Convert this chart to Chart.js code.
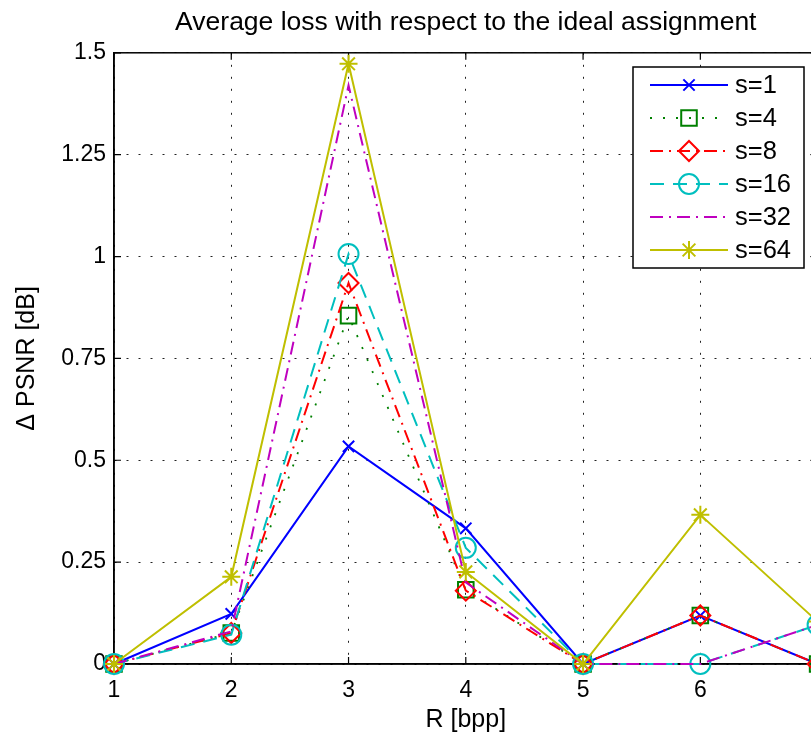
<!DOCTYPE html>
<html>
<head>
<meta charset="utf-8">
<title>Average loss with respect to the ideal assignment</title>
<script src="https://cdn.jsdelivr.net/npm/chart.js"></script>
<style>
  html, body { margin: 0; padding: 0; background: #fff; overflow: hidden; }
  #wrap { width: 837px; height: 739px; }
</style>
</head>
<body>
<div id="wrap"><canvas id="chart" width="837" height="739"></canvas></div>
<script>
// rates R [bpp]
const rates = [1, 2, 3, 4, 5, 6, 7];
const xTicks = [1, 2, 3, 4, 5, 6, 7];
const yTicks = [0, 0.25, 0.5, 0.75, 1, 1.25, 1.5];

// Delta PSNR [dB] for each s
const s1  = [0, 0.123, 0.534, 0.333, 0, 0.119, 0];
const s4  = [0, 0.076, 0.855, 0.182, 0, 0.119, 0];
const s8  = [0, 0.076, 0.935, 0.180, 0, 0.119, 0];
const s16 = [0, 0.072, 1.006, 0.285, 0, 0, 0.096];
const s32 = [0, 0.080, 1.420, 0.200, 0, 0, 0.096];
const s64 = [0, 0.214, 1.473, 0.226, 0, 0.366, 0.104];

const seriesNames = ['s=1', 's=4', 's=8', 's=16', 's=32', 's=64'];
const seriesData = [s1, s4, s8, s16, s32, s64];
const colors = ['#0000ff', '#008000', '#ff0000', '#00bfbf', '#bf00bf', '#bfbf00'];
const dashes = [[], [2, 11], [13, 6, 2, 6], [14, 9], [13, 6, 2, 6], []];
const lineWidths = [2, 1.8, 2, 2, 2, 2];
const markers = ['crossRot', 'rect', 'rectRot', 'circle', false, 'star'];
const markerSizes = [8, 11, 10, 10, 0, 9];

const FONT = '"Liberation Sans", Arial, Helvetica, sans-serif';

const datasets = seriesData.map((vals, i) => ({
    label: seriesNames[i],
    data: rates.map((x, j) => ({ x: x, y: vals[j] })),
    borderColor: colors[i],
    borderWidth: lineWidths[i],
    borderDash: dashes[i],
    pointStyle: markers[i],
    pointRadius: markerSizes[i],
    pointBorderColor: colors[i],
    pointBackgroundColor: 'rgba(0,0,0,0)',
    pointBorderWidth: 2,
    tension: 0,
    clip: false,
    order: seriesData.length - i
}));

// frame on all sides plus inward tick marks, like the matlab axes box
const frame = {
    id: 'frame',
    beforeDatasetsDraw(chart) {
        const ctx = chart.ctx;
        const a = chart.chartArea;
        const xs = chart.scales.x, ys = chart.scales.y;
        ctx.save();
        ctx.strokeStyle = '#000';
        ctx.lineWidth = 1.5;
        ctx.strokeRect(a.left, a.top, a.right - a.left, a.bottom - a.top);
        ctx.lineWidth = 1.2;
        ctx.beginPath();
        xTicks.forEach(v => {
            const px = xs.getPixelForValue(v);
            ctx.moveTo(px, a.bottom); ctx.lineTo(px, a.bottom - 7);
            ctx.moveTo(px, a.top); ctx.lineTo(px, a.top + 7);
        });
        yTicks.forEach(v => {
            const py = ys.getPixelForValue(v);
            ctx.moveTo(a.left, py); ctx.lineTo(a.left + 7, py);
            ctx.moveTo(a.right, py); ctx.lineTo(a.right - 7, py);
        });
        ctx.stroke();
        ctx.restore();
    }
};

// legend box with line sample + marker
const lineLegend = {
    id: 'lineLegend',
    afterDatasetsDraw(chart) {
        const ctx = chart.ctx;
        const box = { x: 633, y: 67, w: 171, h: 201 };
        ctx.save();
        ctx.fillStyle = '#fff';
        ctx.fillRect(box.x, box.y, box.w, box.h);
        ctx.strokeStyle = '#000';
        ctx.lineWidth = 1.5;
        ctx.strokeRect(box.x, box.y, box.w, box.h);
        chart.data.datasets.forEach((ds, i) => {
            const y = box.y + 18 + i * 33;
            ctx.save();
            ctx.strokeStyle = ds.borderColor;
            ctx.lineWidth = ds.borderWidth;
            ctx.setLineDash(ds.borderDash);
            ctx.beginPath();
            ctx.moveTo(650, y);
            ctx.lineTo(728, y);
            ctx.stroke();
            ctx.setLineDash([]);
            if (ds.pointStyle) {
                ctx.strokeStyle = ds.pointBorderColor;
                ctx.fillStyle = 'rgba(0,0,0,0)';
                ctx.lineWidth = ds.pointBorderWidth;
                Chart.helpers.drawPoint(ctx, {
                    pointStyle: ds.pointStyle,
                    radius: ds.pointRadius,
                    rotation: 0,
                    borderWidth: ds.pointBorderWidth
                }, 689, y);
            }
            ctx.restore();
            ctx.fillStyle = '#000';
            ctx.font = '25.5px ' + FONT;
            ctx.textAlign = 'left';
            ctx.textBaseline = 'middle';
            ctx.fillText(ds.label, 735, y + 1);
        });
        ctx.restore();
    }
};

new Chart(document.getElementById('chart'), {
    type: 'line',
    data: { datasets: datasets },
    options: {
        responsive: false,
        animation: false,
        events: [],
        layout: { padding: { top: 0, right: 13, left: 0, bottom: 0 } },
        plugins: {
            legend: { display: false },
            tooltip: { enabled: false },
            title: {
                display: true,
                text: 'Average loss with respect to the ideal assignment',
                fullSize: false,
                color: '#000',
                font: { family: FONT, size: 26.5, weight: 'normal' },
                padding: { top: 7, bottom: 14 }
            }
        },
        scales: {
            x: {
                type: 'linear',
                min: 1,
                max: 7,
                afterFit: s => { s.height = 75; },
                afterBuildTicks: s => { s.ticks = xTicks.map(v => ({ value: v })); },
                ticks: {
                    color: '#000',
                    padding: 13,
                    maxRotation: 0,
                    autoSkip: false,
                    font: { family: FONT, size: 23 },
                    callback: v => String(v)
                },
                grid: { color: '#222', lineWidth: 1, drawTicks: false },
                border: { display: true, color: '#000', width: 1.5, dash: [2, 10] },
                title: {
                    display: true,
                    text: 'R [bpp]',
                    color: '#000',
                    font: { family: FONT, size: 25 },
                    padding: { top: 0, bottom: 4 }
                }
            },
            y: {
                min: 0,
                max: 1.5,
                afterFit: s => { s.width = 114; },
                afterBuildTicks: s => { s.ticks = yTicks.map(v => ({ value: v })); },
                ticks: {
                    color: '#000',
                    padding: 8,
                    font: { family: FONT, size: 23 },
                    callback: v => String(v)
                },
                grid: { color: '#222', lineWidth: 1, drawTicks: false },
                border: { display: true, color: '#000', width: 1.5, dash: [2, 10] },
                title: {
                    display: true,
                    text: '\u0394 PSNR [dB]',
                    color: '#000',
                    font: { family: FONT, size: 25 },
                    padding: { top: 12, bottom: 0 }
                }
            }
        }
    },
    plugins: [frame, lineLegend]
});
</script>
</body>
</html>
